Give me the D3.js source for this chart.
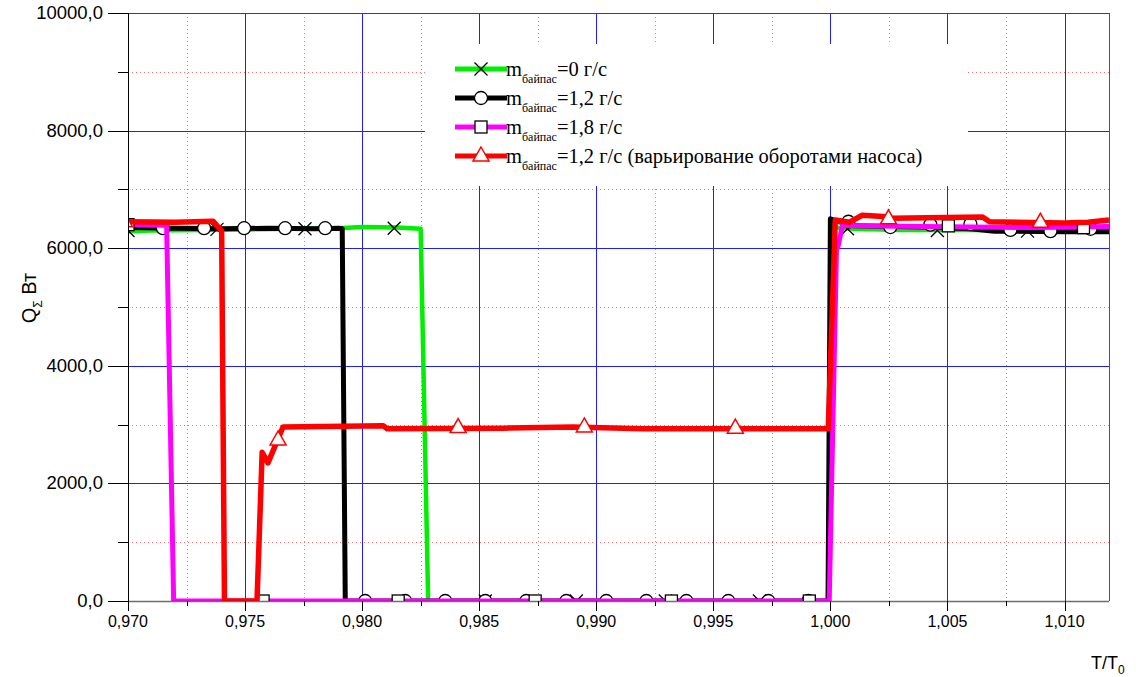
<!DOCTYPE html>
<html>
<head>
<meta charset="utf-8">
<title>Q - T/T0</title>
<script src="https://cdnjs.cloudflare.com/ajax/libs/d3/7.8.5/d3.min.js"></script>
<style>
body{margin:0;background:#fff}
svg{display:block}
</style>
</head>
<body>
<div id="chart"></div>
<script>
// axis ticks
var xTicks = [0.970,0.975,0.980,0.985,0.990,0.995,1.000,1.005,1.010];
var xMinor = [0.9725,0.9775,0.9825,0.9875,0.9925,0.9975,1.0025,1.0075];
var yTicks = [0,2000,4000,6000,8000,10000];
var yMinor = [1000,3000,5000,7000,9000];

// m байпас = 0 г/с
var green = [[0.9700,6290],[0.9710,6300],[0.9730,6310],[0.9750,6320],[0.9770,6330],[0.9790,6340],
  [0.9800,6360],[0.9815,6350],[0.98250,6330],[0.98282,0],[0.99990,0],[1.00010,6350],[1.0010,6330],
  [1.0030,6310],[1.0060,6310],[1.0090,6300],[1.0119,6290]];
var greenMarks = [[0.97000,6300],[0.97380,6320],[0.97756,6330],[0.98137,6340],[0.98526,0],[0.98915,0],
  [0.99295,0],[0.99697,0],[1.00073,6330],[1.00457,6300],[1.00842,6290]];

// m байпас = 1,2 г/с
var black = [[0.9700,6350],[0.9720,6340],[0.9740,6330],[0.9760,6340],[0.9780,6330],[0.9790,6340],
  [0.97915,6330],[0.97928,0],[0.99990,0],[1.00000,6500],[1.00020,6470],[1.00100,6380],[1.00400,6360],
  [1.00600,6330],[1.00700,6290],[1.01000,6280],[1.0119,6280]];
var blackMarks = [[0.97149,6340],[0.97325,6340],[0.97496,6340],[0.97671,6340],[0.97842,6340],
  [0.98013,0],[0.98184,0],[0.98355,0],[0.98526,0],[0.98701,0],[0.98872,0],[0.99043,0],[0.99214,0],
  [0.99385,0],[0.99564,0],[0.99735,0],[0.99906,0],[1.00077,6450],[1.00256,6360],[1.00427,6400],
  [1.00598,6410],[1.00769,6310],[1.00940,6290],[1.01111,6330]];

// m байпас = 1,8 г/с
var magenta = [[0.9700,6400],[0.9715,6390],[0.97165,6380],[0.97195,0],[0.99995,0],[1.00026,5970],
  [1.00034,6050],[1.00051,6380],[1.0010,6380],[1.0040,6370],[1.0060,6360],[1.0090,6350],[1.0119,6370]];
var magentaMarks = [[0.97000,6400],[0.97577,0],[0.98154,0],[0.98739,0],[0.99321,0],[0.99910,0],
  [1.00504,6380],[1.01081,6350]];

// m байпас = 1,2 г/с (варьирование оборотами насоса)
var red = [[0.9700,6450],[0.9720,6440],[0.97363,6460],[0.97400,6290],[0.97412,0],[0.97551,0],
  [0.97573,2530],[0.97598,2350],[0.97662,2960],[0.98090,2980],[0.98107,2930],[0.9860,2940],
  [0.9890,2960],[0.9920,2930],[0.9960,2930],[0.99991,2930],[1.00021,6480],[1.00080,6440],
  [1.00136,6560],[1.00226,6540],[1.00260,6510],[1.00650,6530],[1.00680,6450],[1.01000,6430],
  [1.01100,6440],[1.0119,6480]];
var redMarks = [[0.96985,6450],[0.97641,2740],[0.98410,2950],[0.98949,2960],[0.99594,2940],
  [1.00248,6500],[1.00897,6440]];

var legendLabels = ["=0 г/с","=1,2 г/с","=1,8 г/с","=1,2 г/с (варьирование оборотами насоса)"];

var W = 1136, H = 677;
var svg = d3.select("#chart").append("svg").attr("width", W).attr("height", H);

var x = d3.scaleLinear().domain([0.970, 1.0119]).range([128, 1109]);
var y = d3.scaleLinear().domain([0, 10000]).range([601, 13]);
var loc = d3.formatLocale({decimal: ",", thousands: " ", grouping: [3], currency: ["", ""]});
var fx = loc.format(".3f"), fy = loc.format(".1f");
var px = function(v){ return Math.round(x(v)) + 0.5; };
var py = function(v){ return Math.round(y(v)) + 0.5; };

// grid
var grid = svg.append("g");
grid.selectAll(".gxm").data(xMinor).enter().append("line")
  .attr("x1", px).attr("x2", px).attr("y1", 13).attr("y2", 601)
  .attr("stroke", "#ff7070").attr("stroke-width", 1).attr("stroke-dasharray", "1,3");
grid.selectAll(".gym").data(yMinor).enter().append("line")
  .attr("x1", 128).attr("x2", 1109).attr("y1", py).attr("y2", py)
  .attr("stroke", "#ff7070").attr("stroke-width", 1).attr("stroke-dasharray", "1,3");
grid.selectAll(".gx").data(xTicks.slice(1)).enter().append("line")
  .attr("x1", px).attr("x2", px).attr("y1", 13).attr("y2", 601)
  .attr("stroke", "#2020ff").attr("stroke-width", 1);
grid.selectAll(".gy").data(yTicks.slice(1, -1)).enter().append("line")
  .attr("x1", 128).attr("x2", 1109).attr("y1", py).attr("y2", py)
  .attr("stroke", "#2020ff").attr("stroke-width", 1);

// legend background hides grid
svg.append("rect").attr("x", 425).attr("y", 44).attr("width", 543).attr("height", 142).attr("fill", "#fff");

// frame
svg.append("line").attr("x1", 128).attr("x2", 1109.5).attr("y1", 13.5).attr("y2", 13.5).attr("stroke", "#444");
svg.append("line").attr("x1", 1109.5).attr("x2", 1109.5).attr("y1", 13).attr("y2", 601).attr("stroke", "#555");

// data
svg.append("clipPath").attr("id", "plot").append("rect")
  .attr("x", 128).attr("y", 13).attr("width", 981).attr("height", 588);
var plot = svg.append("g").attr("clip-path", "url(#plot)");

var line = d3.line().x(function(d){ return x(d[0]); }).y(function(d){ return y(d[1]); });

function cross(g){ g.append("path").attr("d", "M-6.5,-6.5L6.5,6.5M-6.5,6.5L6.5,-6.5").attr("stroke", "#000").attr("stroke-width", 1.3).attr("fill", "none"); }
function circ(g){ g.append("circle").attr("r", 6.5).attr("fill", "#fff").attr("stroke", "#000").attr("stroke-width", 1.3); }
function sq(g){ g.append("rect").attr("x", -6).attr("y", -6).attr("width", 12).attr("height", 12).attr("fill", "#fff").attr("stroke", "#000").attr("stroke-width", 1.3); }
function tri(g){ g.append("path").attr("d", "M0,-9L8,5L-8,5Z").attr("fill", "#fff").attr("stroke", "#f00").attr("stroke-width", 1.5); }

var series = [
  {data: green, marks: greenMarks, color: "#00ee00", w: 4.5, m: cross},
  {data: black, marks: blackMarks, color: "#000000", w: 5, m: circ},
  {data: magenta, marks: magentaMarks, color: "#ff00ff", w: 5, m: sq},
  {data: red, marks: redMarks, color: "#ff0000", w: 5.5, m: tri}
];

series.forEach(function(s){
  plot.append("path").datum(s.data).attr("d", line)
    .attr("fill", "none").attr("stroke", s.color).attr("stroke-width", s.w)
    .attr("stroke-linejoin", "round");
  plot.selectAll(null).data(s.marks).enter().append("g")
    .attr("transform", function(d){ return "translate(" + x(d[0]) + "," + y(d[1]) + ")"; })
    .each(function(){ s.m(d3.select(this)); });
});

// axes
svg.append("line").attr("x1", 128).attr("x2", 1109).attr("y1", 601.5).attr("y2", 601.5).attr("stroke", "#333").attr("stroke-width", 1.5).attr("opacity", 0.7);
svg.append("line").attr("x1", 128.5).attr("x2", 128.5).attr("y1", 13).attr("y2", 611).attr("stroke", "#000");

svg.selectAll(".yt").data(yTicks).enter().append("line")
  .attr("x1", 108).attr("x2", 128).attr("y1", py).attr("y2", py).attr("stroke", "#000");
svg.selectAll(".ytm").data(yMinor).enter().append("line")
  .attr("x1", 118).attr("x2", 128).attr("y1", py).attr("y2", py).attr("stroke", "#000");
svg.selectAll(".xt").data(xTicks).enter().append("line")
  .attr("x1", px).attr("x2", px).attr("y1", 601).attr("y2", 611).attr("stroke", "#000");
svg.selectAll(".xtm").data(xMinor).enter().append("line")
  .attr("x1", px).attr("x2", px).attr("y1", 601).attr("y2", 606).attr("stroke", "#000");

svg.selectAll(".yl").data(yTicks).enter().append("text")
  .attr("x", 103).attr("y", function(d){ return y(d) + 6; })
  .attr("text-anchor", "end").attr("font-family", "Liberation Sans, Arial, sans-serif")
  .attr("font-size", 18.5).text(fy);
svg.selectAll(".xl").data(xTicks).enter().append("text")
  .attr("x", function(d){ return x(d); }).attr("y", 627)
  .attr("text-anchor", "middle").attr("font-family", "Liberation Sans, Arial, sans-serif")
  .attr("font-size", 16).text(fx);

// axis titles
var xt = svg.append("text").attr("x", 1091).attr("y", 669)
  .attr("font-family", "Liberation Sans, Arial, sans-serif").attr("font-size", 18);
xt.append("tspan").text("T/T");
xt.append("tspan").attr("font-size", 12).attr("dy", 5).text("0");

var yt = svg.append("text").attr("transform", "translate(36,298) rotate(-90)")
  .attr("text-anchor", "middle").attr("font-family", "Liberation Sans, Arial, sans-serif").attr("font-size", 20);
yt.append("tspan").text("Q");
yt.append("tspan").attr("font-size", 12).attr("dy", 6).text("Σ");
yt.append("tspan").attr("dy", -6).text(" Вт");

// legend
var leg = svg.append("g");
series.forEach(function(s, i){
  var ly = 69 + i * 29;
  leg.append("line").attr("x1", 455).attr("x2", 507).attr("y1", ly).attr("y2", ly)
    .attr("stroke", s.color).attr("stroke-width", 5);
  s.m(leg.append("g").attr("transform", "translate(481," + ly + ")"));
  var t = leg.append("text").attr("x", 506).attr("y", ly + 7)
    .attr("font-family", "Liberation Serif, Times New Roman, serif").attr("font-size", 20.5);
  t.append("tspan").text("m");
  t.append("tspan").attr("font-size", 12).attr("dy", 7).text("байпас");
  t.append("tspan").attr("dy", -7).text(legendLabels[i]);
});
</script>
</body>
</html>
